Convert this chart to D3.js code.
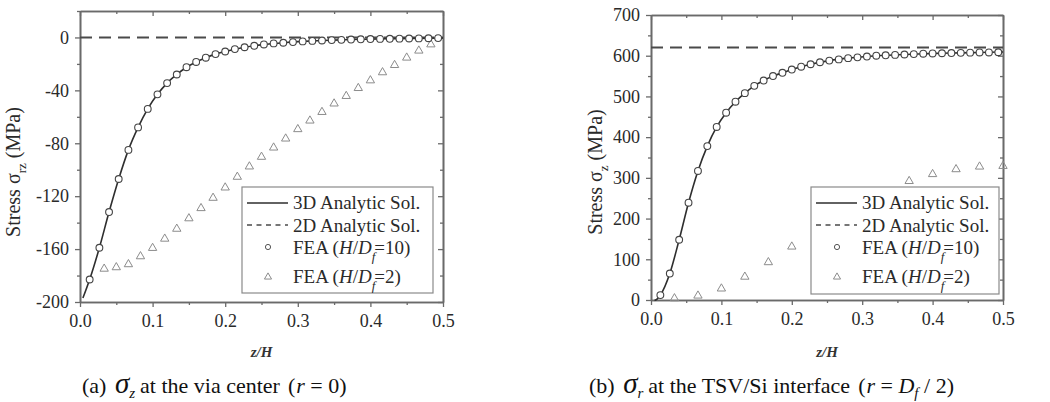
<!DOCTYPE html>
<html><head><meta charset="utf-8">
<script src="https://cdn.jsdelivr.net/npm/d3@7"></script>
<style>
body{margin:0;background:#fff;}
svg{display:block;font-family:"Liberation Serif","Times New Roman",serif;}
</style></head><body>
<svg id="chart" width="1050" height="402"></svg>
<script>
// ---------- data ----------
// z/H positions of FEA (H/Df=10) points
const fea10Z = [0.0133,0.0267,0.0400,0.0533,0.0667,0.0800,0.0933,0.1067,0.1200,0.1333,0.1467,0.1600,0.1733,0.1867,0.2000,0.2133,0.2267,0.2400,0.2533,0.2667,0.2800,0.2933,0.3067,0.3200,0.3333,0.3467,0.3600,0.3733,0.3867,0.4000,0.4133,0.4267,0.4400,0.4533,0.4667,0.4800,0.4933];
// (a) sigma_z at via centre
const aFea10 = [-183,-159,-132,-107,-85,-68,-54,-43,-34.5,-28,-22.5,-18.5,-15.3,-12.6,-10.6,-8.8,-7.4,-6.3,-5.3,-4.5,-4.0,-3.5,-3.0,-2.6,-2.3,-2.0,-1.8,-1.6,-1.4,-1.2,-1.1,-1.0,-0.9,-0.8,-0.7,-0.6,-0.5];
const aLineZ = [0.004,0.0133,0.0267,0.0400,0.0533,0.0667,0.0800,0.0933,0.1067,0.1200,0.1333,0.1467,0.1600,0.1733,0.1867,0.2000,0.2267,0.2533,0.2800,0.3067,0.3333,0.3600,0.3867,0.4133,0.4400,0.4667,0.5];
const aLine  = [-197,-183,-159,-132,-107,-85,-68,-54,-43,-34.5,-28,-22.5,-18.5,-15.3,-12.6,-10.6,-7.4,-5.3,-4.0,-3.0,-2.3,-1.8,-1.4,-1.1,-0.9,-0.7,-0.4];
const aFea2Z = [0.0333,0.0500,0.0667,0.0833,0.1000,0.1167,0.1333,0.1500,0.1667,0.1833,0.2000,0.2167,0.2333,0.2500,0.2667,0.2833,0.3000,0.3167,0.3333,0.3500,0.3667,0.3833,0.4000,0.4167,0.4333,0.4500,0.4667,0.4833];
const aFea2  = [-174.9,-173.8,-171.5,-165.5,-159.2,-152.2,-144.7,-136.8,-129.1,-121.3,-113.5,-105.4,-97.6,-90.3,-83.3,-76.5,-69.4,-62.9,-56.4,-50.0,-44.3,-38.3,-32.5,-26.4,-20.9,-15.3,-10.0,-5.3];
const a2D = 0;
// (b) sigma_r at TSV/Si interface
const bFea10 = [12,65,148,239,317,378,425,460,487,508,526,539,550,558,566,573,579,584,588,591,594,596,598,600,601,602,603,604,605,605.5,606,606.5,607,607.5,608,608,608.5];
const bLineZ = [0.005,0.009,0.0133,0.0267,0.0400,0.0533,0.0667,0.0800,0.0933,0.1067,0.1200,0.1333,0.1467,0.1600,0.1733,0.1867,0.2000,0.2267,0.2533,0.2800,0.3067,0.3333,0.3600,0.3867,0.4133,0.4400,0.4667,0.5];
const bLine  = [-1,3,12,65,148,239,317,378,425,460,487,508,526,539,550,558,566,579,588,594,598,601,603,605,606,607,608,609];
const bFea2Z = [0.0333,0.0667,0.1000,0.1333,0.1667,0.2000,0.3667,0.4000,0.4333,0.4667,0.5];
const bFea2  = [4,10.6,28,57,92.6,131,292,309,321,327.5,329];
const b2D = 620;
// ticks
const xMajor = [0,0.1,0.2,0.3,0.4,0.5];
const xMinor = [0.05,0.15,0.25,0.35,0.45];
const aYMajor = [-200,-160,-120,-80,-40,0];
const aYMinor = [-180,-140,-100,-60,-20,20];
const bYMajor = [0,100,200,300,400,500,600,700];
const bYMinor = [50,150,250,350,450,550,650];
const legendLabels = ["3D Analytic Sol.","2D Analytic Sol.","FEA (H/Df=10)","FEA (H/Df=2)"];

// ---------- drawing ----------
const svg = d3.select("#chart");
const AX = "#6a6a6a", TXT = "#2a2a2a";

function panel(cfg){
  const g = svg.append("g");
  const x = d3.scaleLinear().domain([0,0.5]).range([cfg.x0,cfg.x1]);
  const y = d3.scaleLinear().domain(cfg.yDom).range([cfg.y1,cfg.y0]);
  const fmtX = d3.format(".1f");
  const fmtY = d => String(d);
  function ax(gen, tr){
    const a = g.append("g").attr("transform",tr).call(gen);
    a.attr("font-family","Liberation Serif");
    a.selectAll("path.domain").attr("stroke",AX).attr("stroke-width",1.6);
    a.selectAll(".tick line").attr("stroke",AX).attr("stroke-width",1.3);
    a.selectAll(".tick text").attr("fill",TXT).attr("font-family","Liberation Serif").attr("font-size",18);
    return a;
  }
  // bottom
  ax(d3.axisBottom(x).tickValues(xMajor).tickSize(5).tickSizeOuter(0).tickPadding(7).tickFormat(fmtX), `translate(0,${cfg.y1})`);
  ax(d3.axisBottom(x).tickValues(xMinor).tickSize(3).tickSizeOuter(0).tickFormat(""), `translate(0,${cfg.y1})`);
  // top (inward)
  ax(d3.axisTop(x).tickValues(xMajor).tickSize(-5).tickSizeOuter(0).tickFormat(""), `translate(0,${cfg.y0})`);
  ax(d3.axisTop(x).tickValues(xMinor).tickSize(-3).tickSizeOuter(0).tickFormat(""), `translate(0,${cfg.y0})`);
  // left
  ax(d3.axisLeft(y).tickValues(cfg.yMajor).tickSize(5).tickSizeOuter(0).tickPadding(6).tickFormat(fmtY), `translate(${cfg.x0},0)`);
  ax(d3.axisLeft(y).tickValues(cfg.yMinor).tickSize(3).tickSizeOuter(0).tickFormat(""), `translate(${cfg.x0},0)`);
  // right (inward)
  ax(d3.axisRight(y).tickValues(cfg.yMajor).tickSize(-5).tickSizeOuter(0).tickFormat(""), `translate(${cfg.x1},0)`);
  ax(d3.axisRight(y).tickValues(cfg.yMinor).tickSize(-3).tickSizeOuter(0).tickFormat(""), `translate(${cfg.x1},0)`);

  // 2D analytic dashed
  g.append("line").attr("x1",x(0)).attr("x2",x(0.5)).attr("y1",y(cfg.twoD)).attr("y2",y(cfg.twoD))
    .attr("stroke","#4a4a4a").attr("stroke-width",2).attr("stroke-dasharray","12,7");
  // triangles FEA H/Df=2
  const tri = d3.symbol().type(d3.symbolTriangle).size(30);
  g.selectAll(".tri").data(cfg.f2Z.map((z,i)=>[z,cfg.f2[i]])).join("path")
    .attr("d",tri).attr("transform",d=>`translate(${x(d[0])},${y(d[1])})`)
    .attr("fill","none").attr("stroke","#8c8c8c").attr("stroke-width",1);
  // 3D analytic line
  const line = d3.line().x(d=>x(d[0])).y(d=>y(d[1])).curve(d3.curveMonotoneX);
  g.append("path").datum(cfg.lineZ.map((z,i)=>[z,cfg.line[i]])).attr("d",line)
    .attr("fill","none").attr("stroke","#2e2e2e").attr("stroke-width",1.6);
  // circles FEA H/Df=10
  g.selectAll(".cir").data(fea10Z.map((z,i)=>[z,cfg.f10[i]])).join("circle")
    .attr("cx",d=>x(d[0])).attr("cy",d=>y(d[1])).attr("r",3.4)
    .attr("fill","#fff").attr("stroke","#444").attr("stroke-width",1.1);

  // legend
  const L = g.append("g").attr("transform",`translate(${cfg.lx},${cfg.ly})`);
  L.append("rect").attr("width",cfg.lw).attr("height",cfg.lh).attr("fill","#fff").attr("stroke","#8a8a8a").attr("stroke-width",1.2);
  L.append("line").attr("x1",5).attr("x2",46).attr("y1",16).attr("y2",16).attr("stroke","#2e2e2e").attr("stroke-width",1.6);
  L.append("line").attr("x1",5).attr("x2",46).attr("y1",38).attr("y2",38).attr("stroke","#4a4a4a").attr("stroke-width",1.5).attr("stroke-dasharray","5,4.5");
  L.append("circle").attr("cx",26).attr("cy",60).attr("r",2.6).attr("fill","none").attr("stroke","#555").attr("stroke-width",1);
  L.append("path").attr("d",d3.symbol().type(d3.symbolTriangle).size(22)).attr("transform","translate(26,90)").attr("fill","none").attr("stroke","#8c8c8c");
  const tx = 51, fs = 19;
  L.append("text").attr("x",tx).attr("y",22).attr("font-size",fs).attr("fill",TXT).text(legendLabels[0]);
  L.append("text").attr("x",tx).attr("y",44.5).attr("font-size",fs).attr("fill",TXT).text(legendLabels[1]);
  function feaLabel(yy, label){
    const m = label.match(/^FEA \(H\/Df=(\d+)\)$/);
    const t = L.append("text").attr("x",tx).attr("y",yy).attr("font-size",fs).attr("fill",TXT);
    t.append("tspan").text("FEA (");
    t.append("tspan").attr("font-style","italic").text("H");
    t.append("tspan").text("/");
    t.append("tspan").attr("font-style","italic").text("D");
    t.append("tspan").attr("font-style","italic").attr("font-size",13).attr("dy",7).text("f");
    t.append("tspan").attr("dy",-7).attr("dx",-1).text("="+m[1]+")");
  }
  feaLabel(67, legendLabels[2]);
  feaLabel(96, legendLabels[3]);

  // y label
  const yl = svg.append("text").attr("transform",`translate(${cfg.ylx},${cfg.yly}) rotate(-90)`)
    .attr("text-anchor","middle").attr("font-size",20).attr("fill",TXT);
  yl.append("tspan").text("Stress σ");
  yl.append("tspan").attr("font-size",13).attr("dy",6).text(cfg.ysub);
  yl.append("tspan").attr("dy",-6).text(" (MPa)");
  // x label
  svg.append("text").attr("x",(cfg.x0+cfg.x1)/2).attr("y",357).attr("text-anchor","middle")
    .attr("font-size",15).attr("font-style","italic").attr("font-weight","bold").attr("fill","#333").text("z/H");
}

panel({x0:80,x1:443,y0:11,y1:302,yDom:[-200,20],yMajor:aYMajor,yMinor:aYMinor,
  f10:aFea10,lineZ:aLineZ,line:aLine,f2Z:aFea2Z,f2:aFea2,twoD:a2D,
  lx:242,ly:187,lw:191,lh:106,ylx:20,yly:172,ysub:"rz"});
panel({x0:651,x1:1003,y0:15,y1:300,yDom:[0,700],yMajor:bYMajor,yMinor:bYMinor,
  f10:bFea10,lineZ:bLineZ,line:bLine,f2Z:bFea2Z,f2:bFea2,twoD:b2D,
  lx:811,ly:187,lw:188,lh:107,ylx:602,yly:172,ysub:"z"});

// captions
function caption(x0, parts){
  const t = svg.append("text").attr("x",x0).attr("y",393).attr("font-size",22).attr("fill","#111");
  parts.forEach(p=>{
    const s = t.append("tspan").text(p.t);
    if(p.i) s.attr("font-style","italic");
    if(p.fs) s.attr("font-size",p.fs);
    if(p.dy) s.attr("dy",p.dy);
    if(p.dx) s.attr("dx",p.dx);
  });
}
caption(82,[{t:"(a) "},{t:"σ",i:1,fs:29,dx:3},{t:"z",i:1,fs:15,dy:5},{t:"at the via center",dy:-5,dx:5},{t:"(",dx:8},{t:"r",i:1,dx:1},{t:" = 0)"}]);
caption(589,[{t:"(b) "},{t:"σ",i:1,fs:29,dx:3},{t:"r",i:1,fs:15,dy:5},{t:"at the TSV/Si interface",dy:-5,dx:5},{t:"(",dx:8},{t:"r",i:1,dx:1},{t:" = "},{t:"D",i:1},{t:"f",i:1,fs:15,dy:5},{t:" / 2)",dy:-5}]);
</script>
</body></html>
